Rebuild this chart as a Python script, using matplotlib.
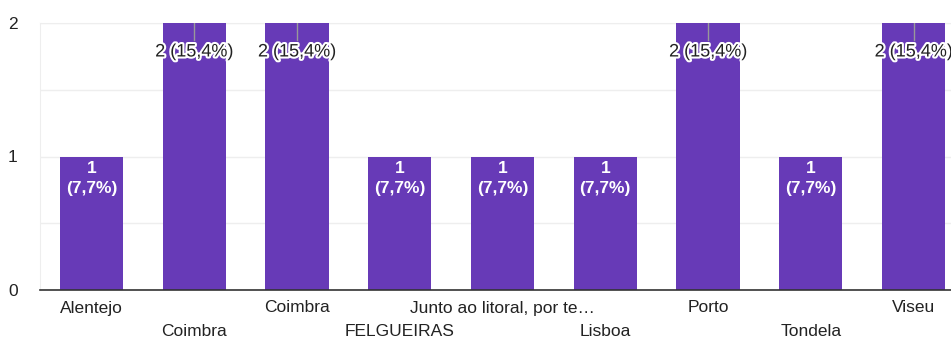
import matplotlib.pyplot as plt
import matplotlib.patheffects as pe

plt.rcParams['font.family'] = ['Liberation Sans', 'DejaVu Sans']

cities = ['Alentejo', 'Coimbra', 'Coimbra', 'FELGUEIRAS', 'Junto ao litoral, por te…',
          'Lisboa', 'Porto', 'Tondela', 'Viseu']
counts = [1, 2, 2, 1, 1, 1, 2, 1, 2]
total = 13

purple = '#673ab7'
PX = 72 / 100  # points per pixel at dpi 100

fig = plt.figure(figsize=(9.51, 3.40), dpi=100)
# axes spans past the right edge, so the last bar is cut off
ax = fig.add_axes([40 / 951, 50 / 340, 925 / 951, 267 / 340])

x = list(range(len(cities)))
ax.bar(x, counts, width=0.615, color=purple, zorder=3)

ax.set_xlim(-0.5, len(cities) - 0.5)
ax.set_ylim(0, 2)

ax.set_yticks([0, 1, 2])
ax.set_yticks([0.5, 1.5], minor=True)
ax.yaxis.grid(True, which='both', color='#eeeeee', linewidth=1, zorder=0)
ax.tick_params(axis='y', which='both', length=0, labelsize=12.5, colors='#222222', pad=16)
ax.tick_params(axis='x', length=0)

for s in ['top', 'left', 'right']:
    ax.spines[s].set_color('#eeeeee')
ax.spines['bottom'].set_color('#333333')
ax.spines['bottom'].set_linewidth(1.2)
ax.spines['bottom'].set_zorder(4)

# category names on two alternating rows
ax.set_xticks(x)
ax.set_xticklabels([])
for i, name in enumerate(cities):
    dy = -18 if i % 2 == 0 else -42
    ax.annotate(name, (i, 0), xytext=(0, dy * PX), textcoords='offset points',
                ha='center', va='center', fontsize=12.5, color='#222222',
                annotation_clip=False)

halo = [pe.withStroke(linewidth=3, foreground='white')]
for i, c in enumerate(counts):
    pct = f'{c / total * 100:.1f}'.replace('.', ',')
    if c == max(counts):
        ax.plot([i, i], [c, c - 0.13], color='#999999', linewidth=1, zorder=4)
        ax.annotate(f'{c} ({pct}%)', (i, c), xytext=(0, -29 * PX), textcoords='offset points',
                    ha='center', va='center', fontsize=13, color='#222222',
                    path_effects=halo, zorder=5)
    else:
        ax.annotate(f'{c}\n({pct}%)', (i, c), xytext=(0, -22 * PX), textcoords='offset points',
                    ha='center', va='center', fontsize=12.5, color='white',
                    fontweight='bold', linespacing=1.35, zorder=5)

fig.savefig('out.png', dpi=100)
